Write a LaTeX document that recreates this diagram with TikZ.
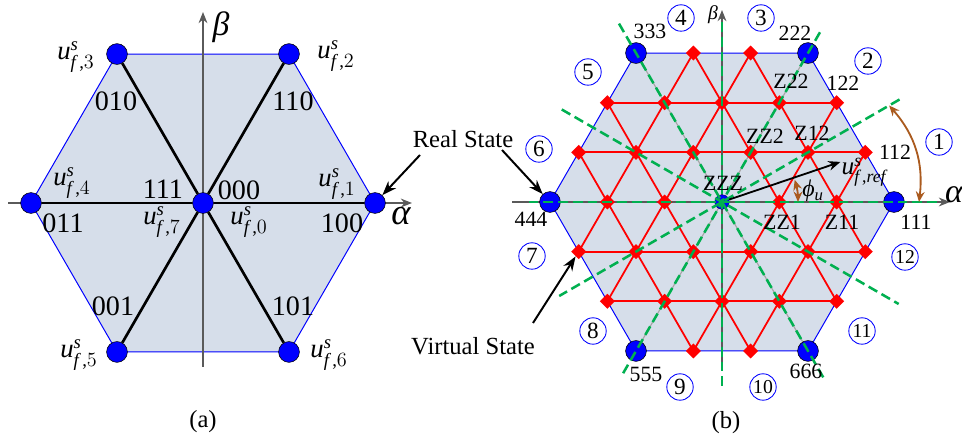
\documentclass[tikz,border=0pt]{standalone}
\usepackage{amsmath}
\usepackage{fontspec}
\setmainfont{Liberation Serif}
\usepackage{tikz}
\usetikzlibrary{arrows.meta, shapes.geometric}

\definecolor{hexfill}{RGB}{214,222,234}
\definecolor{axisgray}{RGB}{90,90,90}
\definecolor{linegray}{RGB}{165,165,165}
\definecolor{sectgreen}{RGB}{0,176,80}
\definecolor{arcbrown}{RGB}{170,90,30}

\newcommand{\uf}[1]{\textit{u}$^{\textit{s}}_{\textit{f}\,\textnormal{,}#1}$}

\begin{document}
\begin{tikzpicture}[
    x=0.025cm, y=0.025cm,
    hexa/.style={draw=blue, line width=0.7pt, fill=hexfill},
    ax/.style={axisgray, line width=0.8pt, -{Stealth[length=2.8mm, width=2.2mm]}},
    spoke/.style={line width=1.9pt},
    lat/.style={draw=red, line width=1.25pt},
    thru/.style={linegray, line width=0.8pt},
    sect/.style={sectgreen, line width=1.8pt, dash pattern=on 7pt off 3.5pt},
    real/.style={draw, circle, fill=blue, minimum size=0.52cm, inner sep=0pt},
    zero/.style={draw=blue!50!black, circle, fill=blue, minimum size=0.36cm, inner sep=0pt},
    virt/.style={diamond, fill=red, minimum size=0.38cm, inner sep=0pt},
    arr/.style={line width=1.4pt, -{Stealth[length=3.6mm, width=2.6mm]}},
    refarr/.style={line width=1.3pt, -{Stealth[length=3mm, width=2.4mm]}},
    ang/.style={arcbrown, line width=1.3pt, {Stealth[length=2.6mm, width=2.2mm]}-{Stealth[length=2.6mm, width=2.2mm]}},
    sec/.style={circle, draw=blue, line width=0.6pt, minimum size=0.66cm, inner sep=0pt, font=\fontsize{16.5}{19}\selectfont},
    secw/.style={sec, font=\fontsize{14}{16}\selectfont},
    numa/.style={font=\fontsize{20}{24}\selectfont},
    numb/.style={font=\fontsize{15.5}{18}\selectfont},
    ulab/.style={font=\fontsize{19}{22}\selectfont},
    txt/.style={font=\fontsize{17.5}{21}\selectfont},
    greek/.style={font=\fontsize{26}{30}\selectfont\itshape}
]
\useasboundingbox (0,0) rectangle (962,441);

\begin{scope}[shift={(203,238)}]
\draw[hexa] (0:172) -- (60:172) -- (120:172) -- (180:172) -- (240:172) -- (300:172) -- cycle;
\draw[ax] (-195,0) -- (209,0);
\draw[ax] (0,-164) -- (0,191);
\node[real] (a0) at (0,0) {};
\foreach \i in {1,...,6}
    \node[real] (a\i) at ({(\i-1)*60}:172) {};
\end{scope}

\foreach \i in {1,...,6}
    \draw[spoke] (a0) -- (a\i);

\node[greek] at (401,225) {α};
\node[greek, font=\fontsize{24}{28}\selectfont\itshape] at (221,414) {β};

\node[ulab] at (76,384) {\uf{3}};
\node[ulab] at (336,385) {\uf{2}};
\node[ulab] at (72,258) {\uf{4}};
\node[ulab] at (337,257) {\uf{1}};
\node[ulab] at (162,219) {\uf{7}};
\node[ulab] at (249,219) {\uf{0}};
\node[ulab] at (79,86) {\uf{5}};
\node[ulab] at (329,86) {\uf{6}};

\node[numa] at (116,340) {010};
\node[numa] at (293,340) {110};
\node[numa] at (163,252) {111};
\node[numa] at (239,251) {000};
\node[numa] at (63,218) {011};
\node[numa] at (342,218) {100};
\node[numa] at (113,135) {001};
\node[numa] at (293,135) {101};
\node[txt] at (203,19) {(a)};

\begin{scope}[shift={(722,239)}]
\draw[hexa] (0:172) -- (60:172) -- (120:172) -- (180:172) -- (240:172) -- (300:172) -- cycle;
\begin{scope}
\clip (0:172) -- (60:172) -- (120:172) -- (180:172) -- (240:172) -- (300:172) -- cycle;
\foreach \r in {0,60,120}
    \foreach \h in {-99.3,-49.65,49.65,99.3}
        \draw[lat, rotate=\r] (-180,\h) -- (180,\h);
\end{scope}
\draw[thru] (60:172) -- (240:172);
\draw[thru] (120:172) -- (300:172);
\draw[ax] (-210,0) -- (228,0);
\draw[ax] (0,-161) -- (0,192);
\foreach \a in {0,60,...,300} {
    \node[virt] (v-\a-i) at (\a:57.33) {};
    \node[virt] (v-\a-o) at (\a:114.67) {};
    \node[virt] (v-\a-m) at (\a+30:99.3) {};
    \node[virt] (v-\a-p) at (\a+19.1:151.7) {};
    \node[virt] (v-\a-n) at (\a-19.1:151.7) {};
}
\node[zero] (b0) at (0,0) {};
\foreach \i in {1,...,6}
    \node[real] (b\i) at ({(\i-1)*60}:172) {};
\foreach \a/\p/\q in {0/215/197, 30/205/188, 60/196/198, 90/180/186, 120/206/207, 150/185/204}
    \draw[sect] (\a:\p) -- (\a+180:\q);
\coordinate (uref) at (18.7:125);
\draw[refarr] (b0) -- (uref);
\coordinate (ph1) at (0:76);
\draw[ang] (ph1) arc[start angle=0, end angle=17, radius=76];
\coordinate (big1) at (0:197);
\coordinate (big2) at (30:193);
\draw[ang] (big1) to[bend right=24] (big2);
\end{scope}

\node[greek, font=\fontsize{24}{28}\selectfont\itshape] at (954,246) {α};
\node[font=\fontsize{14}{16}\selectfont\itshape] at (713,426) {β};

\node[numb] at (650,410) {333};
\node[numb] at (795,408) {222};
\node[numb] at (843,358) {122};
\node[numb] at (791,360) {Z22};
\node[numb] at (765,305) {ZZ2};
\node[numb] at (812,308) {Z12};
\node[numb] at (895,289) {112};
\node[numb] at (723,258) {ZZZ};
\node[numb] at (531,222) {444};
\node[numb] at (782,219) {ZZ1};
\node[numb] at (842,219) {Z11};
\node[numb] at (916,219) {111};
\node[numb] at (646,67) {555};
\node[numb] at (806,70) {666};
\node[font=\fontsize{18}{21}\selectfont] at (864,269) {\uf{\textit{ref}}};
\node[font=\fontsize{17}{20}\selectfont] at (813,250) {\textit{ϕ}$_{\textit{u}}$};

\foreach \n/\x/\y in {1/939/299, 2/868/380, 3/761/423, 4/681/423, 5/588/369, 6/539/292, 7/532/185, 8/593/110, 9/680/54}
    \node[sec] (c\n) at (\x,\y) {\n};
\foreach \n/\x/\y in {10/763/54, 11/862/110, 12/905/184}
    \node[secw] (c\n) at (\x,\y) {\n};

\node[txt] (rs) at (463,302) {Real State};
\coordinate (rs1) at (420,286);
\coordinate (rs2) at (502,291);
\draw[arr] (rs1) -- (a1);
\draw[arr] (rs2) -- (b4);
\node[txt] (vs) at (473,95) {Virtual State};
\coordinate (vs1) at (533,118);
\draw[arr] (vs1) -- (v-180-p);
\node[txt] at (726,18) {(b)};

\end{tikzpicture}
\end{document}
